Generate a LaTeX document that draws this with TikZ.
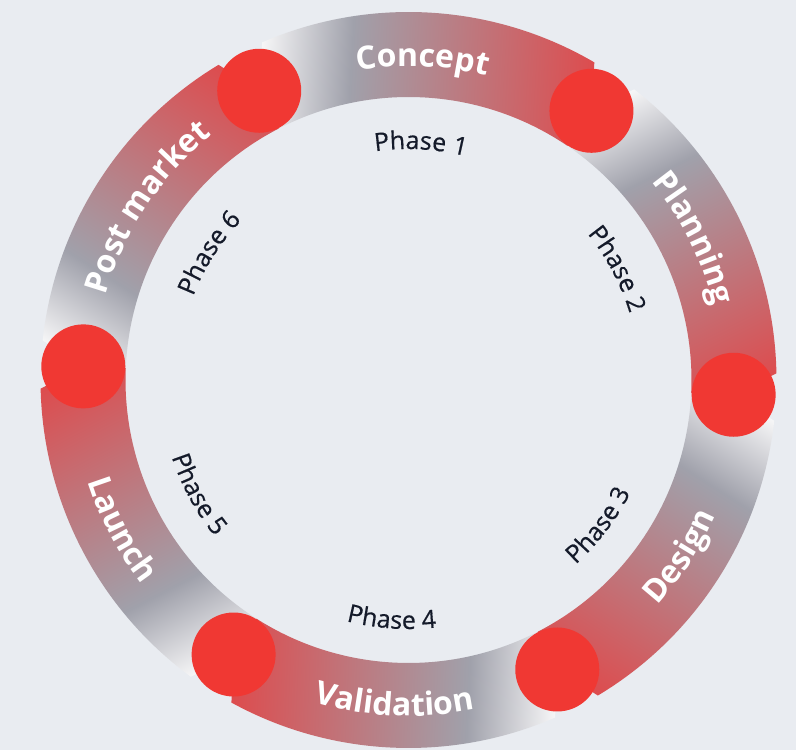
\documentclass[tikz,border=0pt]{standalone}
\usepackage{fontspec}
\setmainfont{Open Sans}
\newfontfamily\phasefamily{Open Sans}[FakeBold=0.5]
\usetikzlibrary{decorations.text}

\definecolor{bg}{HTML}{E9ECF1}
\definecolor{segW}{HTML}{F6F6F7}
\definecolor{segG}{HTML}{A0A1AB}
\definecolor{segR}{HTML}{DD4C4E}
\definecolor{dotR}{HTML}{F03833}
\definecolor{phaseC}{HTML}{141A2A}

\pgfdeclarehorizontalshading{segshade}{100bp}{color(0bp)=(segW); color(25bp)=(segW); color(38.5bp)=(segG); color(75bp)=(segR); color(100bp)=(segR)}

\newcommand\labfont{\bfseries\fontsize{32}{32}\selectfont}
\newcommand\phfont{\phasefamily\fontsize{25}{25}\selectfont}

\tikzset{
  dotnode/.style={circle, fill=dotR, minimum size=84pt, inner sep=0pt, draw=none},
  ringlabel/.style={decorate, decoration={text along path, text align=center, text color=white, text={|\labfont|#1}}},
  phaselabel/.style={decorate, decoration={text along path, text align=center, text color=phaseC, text={|\phfont|#1}}}
}

\begin{document}
\begin{tikzpicture}[x=1pt,y=1pt]
\fill[bg] (0,0) rectangle (796,750);
\useasboundingbox (0,0) rectangle (796,750);
\coordinate (C) at (408.5,370);

% ring segments: white at start angle, red at end angle (clockwise)
\foreach \s/\e in {117.3/55.8, 55.8/-2.6, -2.6/-62.8, -62.8/-122.5, -122.5/-182.4, -182.4/-242.7} {
  \pgfmathsetmacro\m{(\s+\e)/2}
  \pgfmathsetmacro\L{651*sin((\s-\e)/2)}
  \begin{scope}
    \clip ([shift={(\s:368)}]C) arc[start angle=\s, end angle=\e, radius=368]
      -- ([shift={(\e:283)}]C) arc[start angle=\e, end angle=\s, radius=283] -- cycle;
    \begin{scope}[transform canvas={shift={(C)}, shift={(\s:325.5)}, rotate=\m-90}]
      \shade[shading=segshade] (0,-120) rectangle (\L,120);
    \end{scope}
  \end{scope}
}

% dots
\foreach \k/\a in {0/117.3, 1/55.8, 2/-2.6, 3/-62.8, 4/-122.5, 5/177.6} {
  \node[dotnode] (d\k) at ([shift={(\a:325.5)}]C) {};
}

% ring labels, upper half (clockwise, tops outward)
\foreach \m/\lab in {87.5/Concept, 26.5/Planning, 146.5/Post market} {
  \path[ringlabel=\lab] ([shift={(\m+45:314)}]C) arc[start angle=\m+45, end angle=\m-45, radius=314];
}
% ring labels, lower half (counter-clockwise, tops inward)
\foreach \m/\lab in {-33/Design, -92.5/Validation, -152.5/Launch} {
  \path[ringlabel=\lab] ([shift={(\m-45:336)}]C) arc[start angle=\m-45, end angle=\m+45, radius=336];
}

% phase labels
\foreach \m/\lab in {87/Phase 1, 28/Phase 2, 147.5/Phase 6} {
  \path[phaselabel=\lab] ([shift={(\m+40:231)}]C) arc[start angle=\m+40, end angle=\m-40, radius=231];
}
\foreach \m/\lab in {-37.4/Phase 3, -94/Phase 4, -151.5/Phase 5} {
  \path[phaselabel=\lab] ([shift={(\m-40:249)}]C) arc[start angle=\m-40, end angle=\m+40, radius=249];
}
\end{tikzpicture}
\end{document}
